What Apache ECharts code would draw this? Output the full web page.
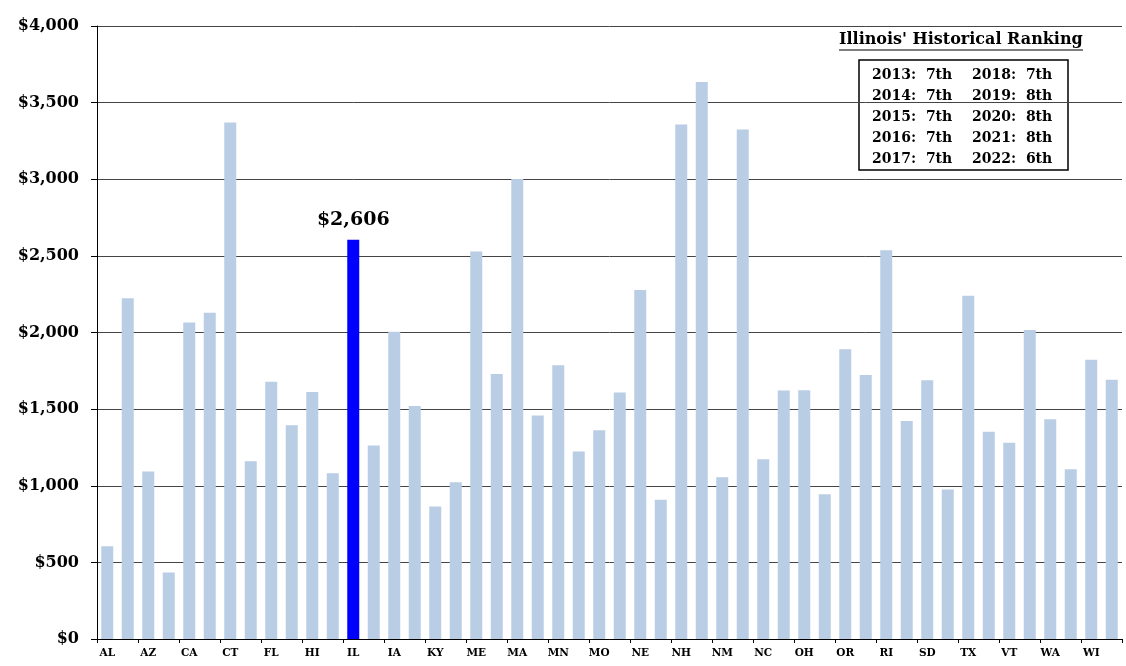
<!DOCTYPE html>
<html>
<head>
<meta charset="utf-8">
<script src="https://cdn.jsdelivr.net/npm/echarts@6/dist/echarts.min.js"></script>
<style>
  html, body { margin: 0; padding: 0; background: #fff; }
  #chart { width: 1126px; height: 666px; }
</style>
</head>
<body>
<div id="chart"></div>
<script>
var states = ["AL","AK","AZ","AR","CA","CO","CT","DE","FL","GA","HI","ID","IL","IN","IA","KS","KY","LA","ME","MD",
  "MA","MI","MN","MS","MO","MT","NE","NV","NH","NJ","NM","NY","NC","ND","OH","OK","OR","PA","RI","SC",
  "SD","TN","TX","UT","VT","VA","WA","WV","WI","WY"];
var values = [605, 2223, 1093, 434, 2066, 2129, 3370, 1160, 1679, 1395, 1612, 1082, 2606, 1262, 2005, 1521, 864, 1023, 2529, 1729,
  3001, 1458, 1786, 1223, 1362, 1608, 2277, 908, 3357, 3635, 1056, 3325, 1173, 1621, 1623, 945, 1890, 1723, 2536, 1423,
  1688, 975, 2240, 1353, 1280, 2016, 1434, 1108, 1823, 1692];
var highlight = "IL";
var rankLeft = ["2013:  7th", "2014:  7th", "2015:  7th", "2016:  7th", "2017:  7th"];
var rankRight = ["2018:  7th", "2019:  8th", "2020:  8th", "2021:  8th", "2022:  6th"];

var fontFam = "'DejaVu Serif', 'Liberation Serif', serif";

function money(v) {
  return "$" + String(v).replace(/\B(?=(\d{3})+(?!\d))/g, ",");
}

var chart = echarts.init(document.getElementById("chart"));
chart.setOption({
  animation: false,
  grid: { left: 97, right: 4, top: 26, bottom: 27 },
  xAxis: {
    type: "category",
    data: states,
    axisLine: { lineStyle: { color: "#000", width: 1 } },
    axisTick: { show: true, length: 4, lineStyle: { color: "#000" } },
    axisLabel: {
      interval: 1,
      color: "#000",
      fontFamily: fontFam,
      fontWeight: "bold",
      fontSize: 10.5,
      margin: 9
    }
  },
  yAxis: {
    type: "value",
    min: 0,
    max: 4000,
    interval: 500,
    axisLine: { show: true, lineStyle: { color: "#000" } },
    axisTick: { show: true, length: 6, lineStyle: { color: "#000" } },
    splitLine: { lineStyle: { color: "#444", width: 1 } },
    axisLabel: {
      color: "#000",
      fontFamily: fontFam,
      fontWeight: "bold",
      fontSize: 16,
      margin: 18,
      formatter: money
    }
  },
  series: [
    {
      type: "bar",
      barWidth: 12,
      data: values.map(function (v, i) {
        if (states[i] === highlight) {
          return {
            value: v,
            itemStyle: { color: "#0000FF" },
            label: {
              show: true,
              position: "top",
              distance: 10,
              formatter: function (p) { return money(p.value); },
              color: "#000",
              fontFamily: fontFam,
              fontWeight: "bold",
              fontSize: 19
            }
          };
        }
        return v;
      }),
      itemStyle: { color: "#B9CDE5" }
    }
  ],
  graphic: [
    {
      type: "text",
      left: 839,
      top: 32,
      style: {
        text: "Illinois' Historical Ranking",
        fill: "#000",
        font: "bold 16px " + fontFam
      }
    },
    {
      type: "line",
      shape: { x1: 839, y1: 50, x2: 1083, y2: 50 },
      style: { stroke: "#000", lineWidth: 1.2 }
    },
    {
      type: "rect",
      shape: { x: 859, y: 60, width: 209, height: 110 },
      style: { fill: "#fff", stroke: "#000", lineWidth: 1.5 }
    },
    {
      type: "text",
      left: 872,
      top: 65,
      style: {
        text: rankLeft.join("\n"),
        fill: "#000",
        font: "bold 14px " + fontFam,
        lineHeight: 21
      }
    },
    {
      type: "text",
      left: 972,
      top: 65,
      style: {
        text: rankRight.join("\n"),
        fill: "#000",
        font: "bold 14px " + fontFam,
        lineHeight: 21
      }
    }
  ]
});
</script>
</body>
</html>
